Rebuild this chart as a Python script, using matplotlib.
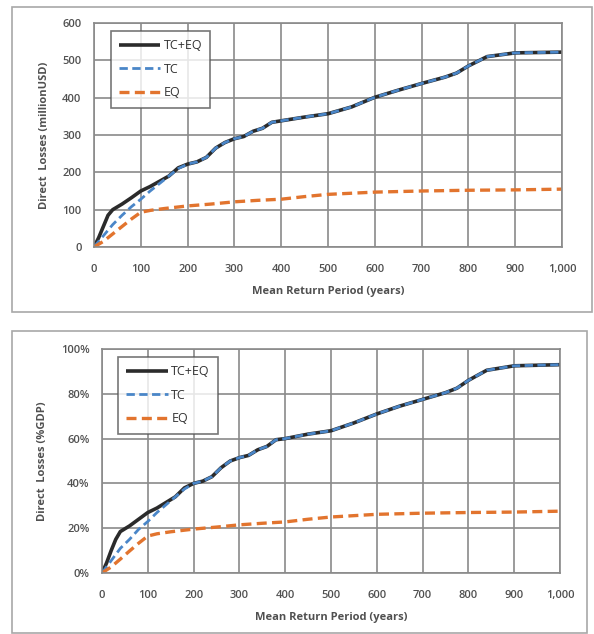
import matplotlib
matplotlib.use("Agg")
import matplotlib.pyplot as plt
from matplotlib.patches import Rectangle
from matplotlib.ticker import FuncFormatter

plt.rcParams['font.family'] = ['Open Sans', 'DejaVu Sans']

# ---- Data: top chart (million USD) ----
x_total_usd = [0, 10, 20, 30, 40, 60, 80, 100, 120, 140, 160, 180, 200, 220, 240, 260, 280,
               300, 320, 340, 360, 380, 400, 450, 500, 550, 600, 650, 700, 750, 775, 800,
               840, 900, 1000]
y_total_usd = [0, 25, 55, 85, 100, 115, 132, 150, 162, 176, 190, 212, 222, 228, 240, 265, 280,
               290, 296, 310, 318, 334, 338, 348, 357, 375, 401, 420, 438, 455, 466, 485,
               510, 520, 522]
x_tc_usd = [0, 20, 40, 60, 80, 100, 120, 140, 160, 180, 200, 220, 240, 260, 280,
            300, 320, 340, 360, 380, 400, 450, 500, 550, 600, 650, 700, 750, 775, 800,
            840, 900, 1000]
y_tc_usd = [0, 30, 60, 85, 108, 128, 150, 170, 190, 210, 222, 228, 240, 265, 280,
            290, 296, 310, 318, 334, 338, 348, 357, 375, 401, 420, 438, 455, 466, 485,
            510, 520, 522]
x_eq_usd = [0, 20, 40, 60, 80, 100, 120, 150, 200, 250, 300, 350, 400, 450, 500, 600,
            700, 800, 900, 1000]
y_eq_usd = [0, 15, 35, 55, 75, 93, 98, 103, 110, 115, 121, 125, 128, 135, 141, 147,
            150, 152, 153, 155]

# ---- Data: bottom chart (% GDP) ----
x_total_gdp = [0, 10, 20, 30, 40, 60, 80, 100, 120, 140, 160, 180, 200, 220, 240, 260, 280,
               300, 320, 340, 360, 380, 400, 450, 500, 550, 600, 650, 700, 750, 775, 800,
               840, 900, 1000]
y_total_gdp = [0, 4.5, 10, 15, 18.5, 21, 24, 27, 29, 31.5, 34, 38, 40, 41, 43, 47, 50,
               51.5, 52.5, 55, 56.5, 59.5, 60, 62, 63.5, 67, 71, 74.5, 77.5, 80.5, 82.5, 86,
               90.5, 92.5, 93]
x_tc_gdp = [0, 20, 40, 60, 80, 100, 120, 140, 160, 180, 200, 220, 240, 260, 280,
            300, 320, 340, 360, 380, 400, 450, 500, 550, 600, 650, 700, 750, 775, 800,
            840, 900, 1000]
y_tc_gdp = [0, 5.5, 11, 15, 19.5, 23, 27, 30.5, 34, 37.5, 40, 41, 43, 47, 50,
            51.5, 52.5, 55, 56.5, 59.5, 60, 62, 63.5, 67, 71, 74.5, 77.5, 80.5, 82.5, 86,
            90.5, 92.5, 93]
x_eq_gdp = [0, 20, 40, 60, 80, 100, 120, 150, 200, 250, 300, 350, 400, 450, 500, 600,
            700, 800, 900, 1000]
y_eq_gdp = [0, 2.7, 6.2, 9.8, 13.3, 16.5, 17.5, 18.4, 19.6, 20.5, 21.5, 22.2, 22.8, 24,
            25, 26.2, 26.7, 27, 27.2, 27.6]

labels = ["TC+EQ", "TC", "EQ"]
x_ticks = [0, 100, 200, 300, 400, 500, 600, 700, 800, 900, 1000]
usd_ticks = [0, 100, 200, 300, 400, 500, 600]
gdp_ticks = [0, 20, 40, 60, 80, 100]

c_total = "#2b2b2b"
c_tc = "#4a86c8"
c_eq = "#e2742e"
grid_c = "#8a8a8a"
text_c = "#505050"

fig = plt.figure(figsize=(5.94, 6.34), dpi=100)

# outer panel boxes
fig.patches.append(Rectangle((12/594, 1-312/634), (592-12)/594, (312-7)/634,
                             transform=fig.transFigure, fill=False, ec="#a8a8a8", lw=1.2))
fig.patches.append(Rectangle((12/594, 1-633/634), (587-12)/594, (633-331)/634,
                             transform=fig.transFigure, fill=False, ec="#a8a8a8", lw=1.2))

def style(ax, yticks, ylim, ylabel, fmt):
    ax.set_xlim(0, 1000)
    ax.set_ylim(*ylim)
    ax.set_xticks(x_ticks)
    ax.set_yticks(yticks)
    ax.xaxis.set_major_formatter(FuncFormatter(lambda v, p: f"{int(v):,}"))
    ax.yaxis.set_major_formatter(FuncFormatter(fmt))
    ax.grid(True, color=grid_c, lw=1.2)
    ax.set_axisbelow(True)
    for s in ax.spines.values():
        s.set_color(grid_c)
        s.set_linewidth(1.2)
    ax.tick_params(length=0, labelsize=8, colors=text_c)
    ax.tick_params(axis="x", pad=12)
    ax.tick_params(axis="y", pad=9)
    for lab in ax.get_xticklabels() + ax.get_yticklabels():
        lab.set_fontweight("semibold")
    ax.set_xlabel("Mean Return Period (years)", fontsize=8, fontweight="bold",
                  color=text_c, labelpad=8)
    ax.set_ylabel(ylabel, fontsize=8, fontweight="bold", color=text_c, labelpad=9)

def draw(ax, xt, yt, xc, yc, xe, ye):
    ax.plot(xt, yt, color=c_total, lw=2.6, label=labels[0], solid_capstyle="butt")
    ax.plot(xc, yc, color=c_tc, lw=2.0, ls=(0, (3, 1.6)), label=labels[1])
    ax.plot(xe, ye, color=c_eq, lw=2.4, ls=(0, (3, 1.6)), label=labels[2])
    leg = ax.legend(loc="upper left", bbox_to_anchor=(0.03, 0.975), fontsize=9,
                    frameon=True, fancybox=False, edgecolor="#555555",
                    handlelength=3.3, handletextpad=0.3, labelspacing=0.85,
                    borderpad=0.65, borderaxespad=0.2)
    leg.get_frame().set_linewidth(1.2)
    for t in leg.get_texts():
        t.set_color("#333333")

ax1 = fig.add_axes([94/594, 1-247/634, (562-94)/594, (247-23)/634])
draw(ax1, x_total_usd, y_total_usd, x_tc_usd, y_tc_usd, x_eq_usd, y_eq_usd)
style(ax1, usd_ticks, (0, 600), "Direct  Losses (millionUSD)", lambda v, p: f"{int(v)}")

ax2 = fig.add_axes([102/594, 1-573/634, (560-102)/594, (573-349)/634])
draw(ax2, x_total_gdp, y_total_gdp, x_tc_gdp, y_tc_gdp, x_eq_gdp, y_eq_gdp)
style(ax2, gdp_ticks, (0, 100), "Direct  Losses (%GDP)", lambda v, p: f"{int(v)}%")

fig.savefig("out.png", dpi=100)
